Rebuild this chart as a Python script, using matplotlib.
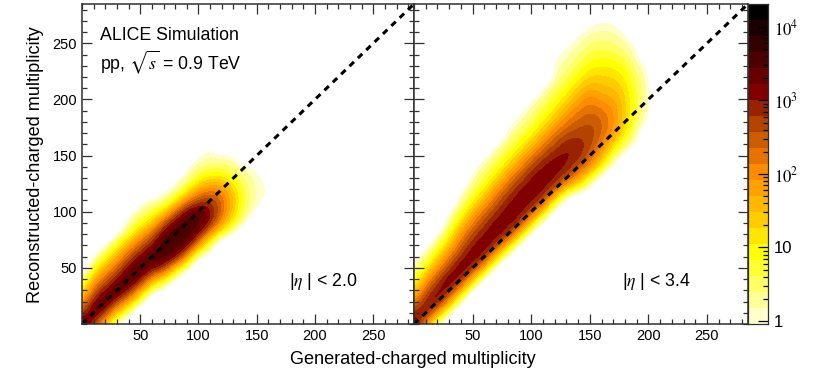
import numpy as np
import matplotlib
matplotlib.use("Agg")
import matplotlib.pyplot as plt
from matplotlib.colors import ListedColormap, BoundaryNorm
from matplotlib.ticker import MultipleLocator, LogLocator, FixedFormatter, FixedLocator, NullFormatter

plt.rcParams["font.family"] = ["Liberation Sans", "DejaVu Sans"]
plt.rcParams["mathtext.fontset"] = "stix"

# grid nodes of generated / reconstructed multiplicity
grid_nodes = list(range(0, 300, 10))

# log10(counts), one list per generated multiplicity (0, 10, 20 ...),
# each list starts at the reconstructed multiplicity given in *_first_y
eta20_first_y = [0, 0, 0, 0, 10, 20, 30, 30, 40, 50, 60, 60, 80, 80, 90, 100, 110]
eta20_log_counts = [
    [3.6, 2.6, 1.8, 1.0, 0.3],
    [2.8, 3.7, 3.1, 2.4, 1.7, 0.85, 0.07],
    [1.4, 2.8, 3.7, 3.1, 2.4, 1.7, 0.85, 0.07],
    [0.2, 1.4, 2.8, 3.7, 3.1, 2.4, 1.7, 0.9, 0.07],
    [0.5, 1.75, 3.1, 3.7, 3.2, 2.55, 1.8, 0.8, 0.3, -0.2],
    [0.6, 1.9, 3.2, 3.75, 3.15, 2.5, 1.7, 0.82, 0.24, -0.2],
    [0.5, 1.9, 3.2, 3.7, 3.1, 2.4, 1.4, 0.7, 0.18],
    [-0.2, 1.2, 2.9, 3.6, 3.7, 3.4, 2.6, 1.2, 0.3, -0.1],
    [0.1, 1.5, 3.3, 3.6, 3.7, 3.35, 2.45, 1.0, 0.15, -0.2],
    [0.4, 2.0, 3.35, 3.7, 3.6, 3.3, 2.2, 0.9, 0.2, 0.0],
    [0.0, 2.0, 3.1, 3.65, 3.5, 2.7, 1.8, 0.85, 0.35, 0.0, -0.3],
    [-0.3, 0.5, 1.9, 3.0, 3.15, 2.85, 2.1, 1.2, 0.5, 0.1, -0.2],
    [0.7, 1.9, 2.35, 2.35, 2.0, 1.2, 0.5, 0.1],
    [-0.1, 0.9, 1.35, 1.45, 1.3, 0.8, 0.35, 0.1],
    [0.1, 0.4, 0.55, 0.5, 0.3, 0.1],
    [0.0, 0.1, 0.15, 0.1, 0.0],
    [-0.1, -0.05, -0.2],
]

eta34_first_y = [0, 0, 0, 10, 20, 30, 40, 50, 60, 70, 80, 90, 100, 110, 120, 120, 130,
                 140, 150, 160, 180]
eta34_log_counts = [
    [3.5, 2.9, 2.1, 1.3, 0.6, 0.1, -0.3],
    [2.0, 3.2, 3.0, 2.4, 1.8, 1.0, 0.35, -0.2],
    [0.3, 2.0, 3.3, 3.2, 2.6, 2.0, 1.25, 0.6, 0.0],
    [0.3, 2.0, 3.1, 3.4, 2.7, 2.2, 1.5, 0.9, 0.45, 0.0],
    [0.2, 1.8, 3.05, 3.4, 2.9, 2.45, 2.0, 1.25, 0.7, 0.3, -0.1],
    [0.0, 1.65, 3.0, 3.35, 3.05, 2.65, 2.2, 1.6, 0.9, 0.55, 0.2, -0.2],
    [0.0, 1.65, 3.0, 3.3, 3.1, 2.75, 2.3, 1.75, 1.0, 0.65, 0.3, -0.1],
    [-0.1, 1.5, 2.9, 3.25, 3.2, 2.85, 2.4, 1.95, 1.2, 0.75, 0.4, 0.0],
    [-0.1, 1.5, 2.9, 3.2, 3.2, 3.0, 2.5, 2.05, 1.35, 0.85, 0.5, 0.15, -0.2],
    [-0.1, 1.5, 2.9, 3.2, 3.2, 3.1, 2.6, 2.1, 1.4, 0.9, 0.55, 0.2, -0.1],
    [-0.1, 1.3, 2.75, 3.15, 3.2, 3.1, 2.7, 2.15, 1.5, 0.9, 0.6, 0.3, 0.0],
    [-0.1, 1.3, 2.75, 3.15, 3.2, 3.1, 2.7, 2.15, 1.6, 1.0, 0.7, 0.4, 0.1],
    [-0.2, 1.1, 2.6, 3.1, 3.15, 3.05, 2.65, 2.2, 1.65, 1.1, 0.8, 0.5, 0.25, 0.1, 0.0],
    [-0.2, 1.15, 2.6, 3.05, 3.05, 3.0, 2.6, 2.2, 1.75, 1.25, 0.85, 0.55, 0.3, 0.1, 0.0],
    [0.7, 1.9, 2.55, 3.0, 2.95, 2.7, 2.45, 2.15, 1.8, 1.35, 0.95, 0.65, 0.35, 0.15, 0.0],
    [-0.2, 0.85, 2.0, 2.4, 2.7, 2.75, 2.6, 2.35, 2.1, 1.75, 1.35, 0.95, 0.7, 0.4, 0.15, -0.1],
    [-0.3, 1.0, 1.7, 2.15, 2.35, 2.4, 2.2, 1.85, 1.55, 1.3, 1.05, 0.75, 0.5, 0.2, 0.0],
    [-0.2, 0.6, 1.3, 1.85, 2.0, 1.95, 1.75, 1.5, 1.25, 1.0, 0.7, 0.4, 0.2, 0.0],
    [-0.2, 0.5, 1.05, 1.3, 1.35, 1.3, 1.2, 1.05, 0.8, 0.5, 0.2, 0.0],
    [-0.1, 0.2, 0.45, 0.6, 0.65, 0.6, 0.45, 0.25, 0.05, -0.1],
    [-0.1, 0.0, 0.1, 0.1, 0.0, -0.1],
]

palette_colors = ["#ffffcc", "#ffff99", "#ffff66", "#ffff33", "#ffff00", "#ffe600",
                  "#ffcc00", "#ffb800", "#ffa200", "#ff8c00", "#e67300", "#cc5c00",
                  "#b34400", "#992200", "#800000", "#660000", "#4d0000", "#330000",
                  "#1a0000", "#000000"]
# colour level edges in log10(counts)
level_edges = [-0.04, 0.178, 0.395, 0.613, 0.83, 1.048, 1.265, 1.483, 1.7, 1.918, 2.135,
               2.353, 2.57, 2.788, 3.005, 3.223, 3.44, 3.658, 3.875, 4.093, 4.31]
xy_ticks = [50, 100, 150, 200, 250]
cbar_ticks = [1, 10, 100, 1000, 10000]
cbar_labels = ["1", "10", "$10^{2}$", "$10^{3}$", "$10^{4}$"]
max_mult = 285


def fill_grid(first_y, columns):
    grid = np.full((len(grid_nodes), len(grid_nodes)), -1.0)
    for i, col in enumerate(columns):
        j = grid_nodes.index(first_y[i])
        grid[j:j + len(col), i] = col
    return grid


cmap = ListedColormap(palette_colors)
cmap.set_under("white")
norm = BoundaryNorm(level_edges, len(palette_colors))

W, H = 830.0, 381.0
fig = plt.figure(figsize=(8.3, 3.81), dpi=100)
ax1 = fig.add_axes([82 / W, 1 - 324 / H, 332 / W, 320 / H])
ax2 = fig.add_axes([414 / W, 1 - 324 / H, 334 / W, 320 / H])
cax = fig.add_axes([748 / W, 1 - 324 / H, 20 / W, 320 / H])

spine_col = "#303030"
for ax, first_y, columns in [(ax1, eta20_first_y, eta20_log_counts),
                             (ax2, eta34_first_y, eta34_log_counts)]:
    ax.imshow(fill_grid(first_y, columns), origin="lower", extent=(-5, 295, -5, 295),
              cmap=cmap, norm=norm, interpolation="bicubic", aspect="auto")
    ax.plot([0, max_mult], [0, max_mult], color="k", ls=(0, (2.0, 1.8)), lw=2.2)
    ax.set_xlim(0, max_mult)
    ax.set_ylim(0, max_mult)
    ax.xaxis.set_major_locator(FixedLocator(xy_ticks))
    ax.yaxis.set_major_locator(FixedLocator(xy_ticks))
    ax.xaxis.set_minor_locator(MultipleLocator(10))
    ax.yaxis.set_minor_locator(MultipleLocator(10))
    ax.tick_params(which="major", direction="in", top=True, right=True, length=7.2,
                   width=0.9, color=spine_col, labelsize=10.5, pad=3.5)
    ax.tick_params(which="minor", direction="in", top=True, right=True, length=3.6,
                   width=0.9, color=spine_col)
    for s in ax.spines.values():
        s.set_color(spine_col)
        s.set_linewidth(1.1)
ax2.tick_params(which="both", labelleft=False)

# palette
edges = 10.0 ** np.array(level_edges)
cax.pcolormesh([0, 1], edges, np.array(level_edges[:-1])[:, None] + 0.01, cmap=cmap, norm=norm)
cax.set_yscale("log")
cax.set_ylim(edges[0], edges[-1])
cax.set_xticks([])
cax.yaxis.tick_right()
cax.yaxis.set_major_locator(FixedLocator(cbar_ticks))
cax.yaxis.set_major_formatter(FixedFormatter(cbar_labels))
cax.yaxis.set_minor_locator(LogLocator(base=10, subs=range(2, 10)))
cax.yaxis.set_minor_formatter(NullFormatter())
cax.tick_params(which="major", direction="in", right=True, length=7.2, width=0.9,
                labelsize=12, pad=4)
cax.tick_params(which="minor", direction="in", right=True, length=3.6, width=0.9)
for s in cax.spines.values():
    s.set_color(spine_col)
    s.set_linewidth(0.9)

fig.text(100 / W, 1 - 36 / H, "ALICE Simulation", fontsize=12.8, va="center")
fig.text(100 / W, 1 - 62 / H, r"pp, $\sqrt{s}$ = 0.9 TeV", fontsize=12.8, va="center")
fig.text(289 / W, 1 - 281 / H, r"|$\eta$ | < 2.0", fontsize=12.8, va="center")
fig.text(622 / W, 1 - 281 / H, r"|$\eta$ | < 3.4", fontsize=12.8, va="center")
fig.text(413 / W, 1 - 359 / H, "Generated-charged multiplicity", fontsize=13.1,
         ha="center", va="center")
fig.text(36 / W, 1 - 165 / H, "Reconstructed-charged multiplicity", fontsize=13.1,
         rotation=90, ha="center", va="center")

fig.savefig("out.png", dpi=100)
